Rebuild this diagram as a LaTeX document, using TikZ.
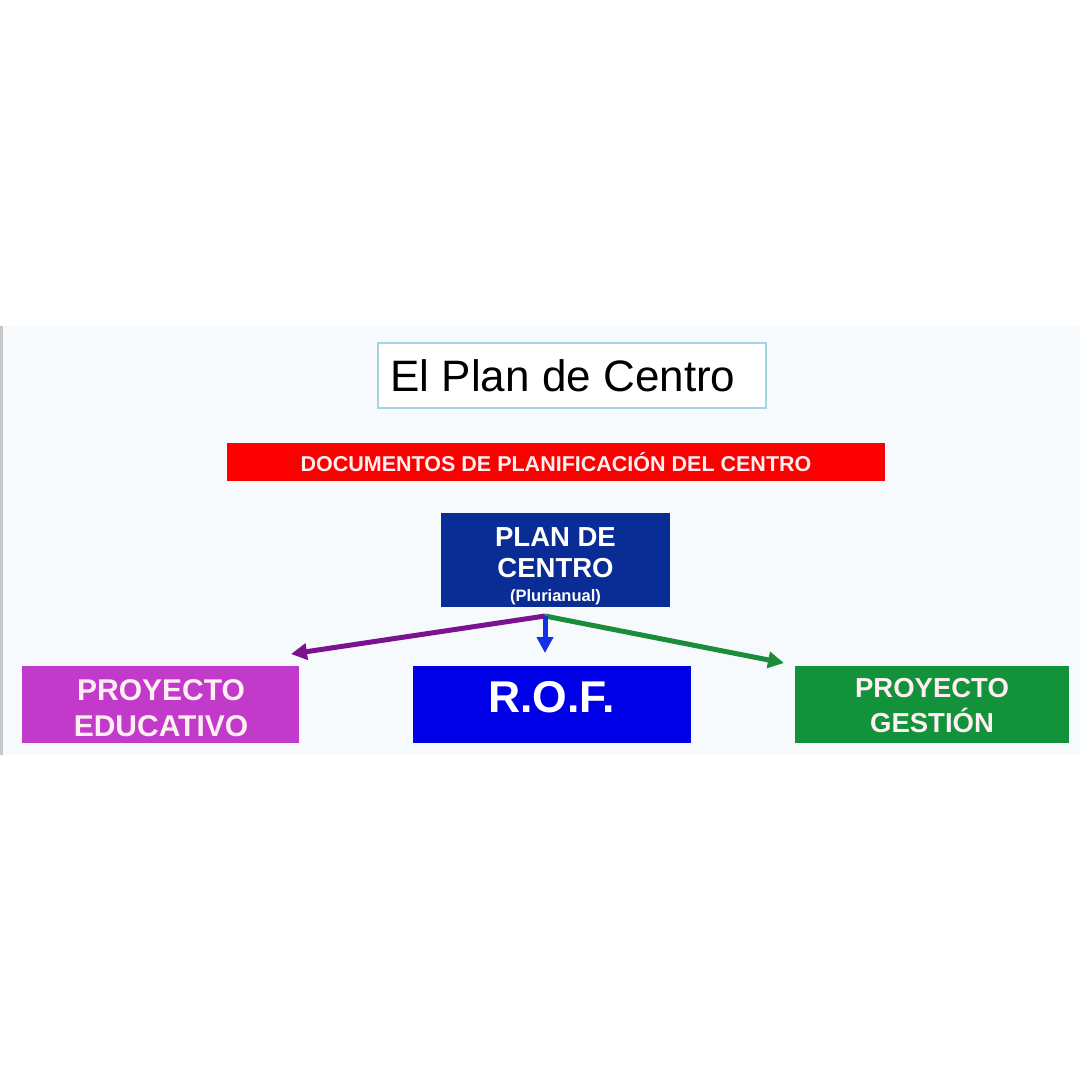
\documentclass[tikz,border=0pt]{standalone}
\usepackage{fontspec}
\setmainfont{Liberation Sans}
\usetikzlibrary{arrows.meta,calc}
\definecolor{band}{HTML}{F6FAFD}
\definecolor{titleline}{HTML}{9FD6E0}
\definecolor{redbar}{HTML}{FA0000}
\definecolor{navy}{HTML}{0A2C95}
\definecolor{purpleArr}{HTML}{7B128E}
\definecolor{blueArr}{HTML}{1530E6}
\definecolor{greenArr}{HTML}{1A8C3C}
\definecolor{magbox}{HTML}{C13AC9}
\definecolor{rofblue}{HTML}{0000E6}
\definecolor{greenbox}{HTML}{12923A}
\definecolor{pinkwhite}{HTML}{FFEEF2}
\tikzset{
  boxbase/.style={draw=none, inner sep=0pt, align=center, font=\bfseries},
  conn/.style={line width=5pt, -{Triangle[length=16pt,width=16pt]}},
}
\begin{document}
\begin{tikzpicture}[x=1pt,y=-1pt]
\useasboundingbox (0,0) rectangle (1080,1080);
\fill[white] (0,0) rectangle (1080,1080);
\fill[band] (0,326) rectangle (1080,755);
\draw[black!22, line width=2.5pt] (1.5,326) -- (1.5,755);

\node[draw=titleline, line width=1.5pt, fill=white, minimum width=388pt, minimum height=65pt, inner sep=0pt] (title) at (572,375.5) {};
\node[inner sep=0pt, font=\fontsize{44}{50}\selectfont] (titletext) at (563,376) {El Plan de Centro};

\node[boxbase, fill=redbar, minimum width=658pt, minimum height=38pt, text=pinkwhite,
      font=\bfseries\fontsize{21.5}{24}\selectfont] (docs) at (556,462) {DOCUMENTOS DE PLANIFICACIÓN DEL CENTRO};

\node[boxbase, fill=navy, minimum width=229pt, minimum height=94pt] (plan) at (555.5,560) {};
\node[boxbase, text=white, font=\bfseries\fontsize{27.5}{31}\selectfont] (plantext) at (555.5,566)
  {PLAN DE\\CENTRO\\[-7pt]{\fontsize{16.5}{18}\selectfont(Plurianual)}};

\node[boxbase, fill=magbox, minimum width=277pt, minimum height=77pt] (pe) at (160.5,704.5) {};
\node[boxbase, text=pinkwhite, font=\bfseries\fontsize{30}{36}\selectfont] (petext) at (161,708)
  {PROYECTO\\EDUCATIVO};

\node[boxbase, fill=rofblue, minimum width=278pt, minimum height=77pt] (rof) at (552,704.5) {};
\node[boxbase, text=white, font=\bfseries\fontsize{44.5}{50}\selectfont] (roftext) at (551.5,697.5) {R.O.F.};

\node[boxbase, fill=greenbox, minimum width=274pt, minimum height=77pt] (pg) at (932,704.5) {};
\node[boxbase, text=pinkwhite, font=\bfseries\fontsize{27.5}{35}\selectfont] (pgtext) at (932,706)
  {PROYECTO\\GESTIÓN};

\coordinate (hub) at (545,616);
\coordinate (petip) at (291,654);
\coordinate (roftip) at (545,653);
\coordinate (pgtip) at (784,663);

\draw[conn, purpleArr] (hub) -- (petip);
\draw[conn, greenArr] (hub) -- (pgtip);
\draw[conn, blueArr] (hub) -- (roftip);
\end{tikzpicture}
\end{document}
